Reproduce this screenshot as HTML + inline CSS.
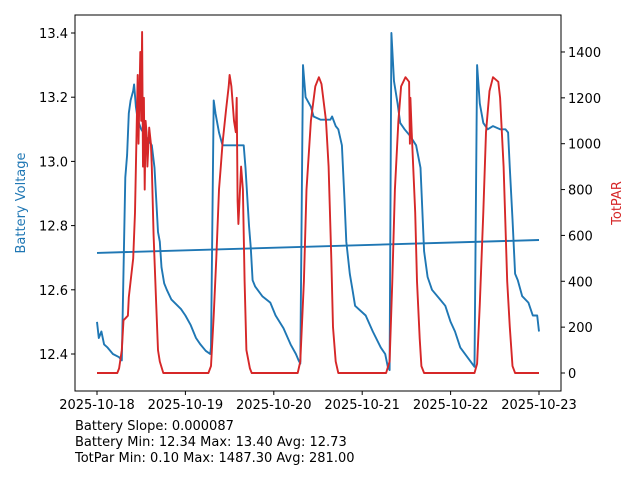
<!DOCTYPE html>
<html><head><meta charset="utf-8"><style>
body{margin:0;background:#fff;}
svg text{font-family:"DejaVu Sans","Liberation Sans",sans-serif;font-size:13px;fill:#000;}
</style></head><body>
<svg id="chart" width="640" height="480" xmlns="http://www.w3.org/2000/svg">
<g id="plot"></g>
<text x="75" y="430">Battery Slope: 0.000087</text>
<text x="75" y="446">Battery Min: 12.34 Max: 13.40 Avg: 12.73</text>
<text x="75" y="462">TotPar Min: 0.10 Max: 1487.30 Avg: 281.00</text>
<text transform="translate(25,203) rotate(-90)" text-anchor="middle" style="fill:#1f77b4">Battery Voltage</text>
<text transform="translate(621,203) rotate(-90)" text-anchor="middle" style="fill:#d62728">TotPAR</text>
</svg>
<script>
const battDays=[0,.02,.05,.08,.12,.18,.25,.28,.32,.34,.36,.38,.41,.42,.44,.46,.50,.55,.62,.65,.69,.71,.73,.76,.79,.84,.95,1.00,1.06,1.12,1.17,1.23,1.28,1.29,1.32,1.34,1.38,1.42,1.57,1.66,1.68,1.72,1.74,1.76,1.79,1.87,1.96,2.02,2.11,2.19,2.25,2.28,2.30,2.33,2.36,2.42,2.45,2.53,2.64,2.66,2.70,2.73,2.77,2.80,2.82,2.86,2.89,2.92,3.04,3.12,3.21,3.26,3.29,3.31,3.33,3.36,3.40,3.43,3.48,3.54,3.61,3.66,3.70,3.74,3.79,3.88,3.94,4.00,4.05,4.11,4.27,4.30,4.33,4.37,4.42,4.48,4.56,4.62,4.65,4.67,4.70,4.73,4.76,4.81,4.88,4.93,4.98,5.00];
const battVolts=[12.50,12.45,12.47,12.43,12.42,12.40,12.39,12.38,12.95,13.02,13.15,13.19,13.22,13.24,13.17,13.13,13.10,13.08,13.05,12.98,12.78,12.75,12.67,12.62,12.60,12.57,12.54,12.52,12.49,12.45,12.43,12.41,12.40,12.42,13.19,13.15,13.09,13.05,13.05,13.05,12.98,12.80,12.73,12.63,12.61,12.58,12.56,12.52,12.48,12.43,12.40,12.38,12.37,13.30,13.20,13.17,13.14,13.13,13.13,13.14,13.11,13.10,13.05,12.88,12.75,12.65,12.60,12.55,12.52,12.47,12.42,12.40,12.36,12.35,13.40,13.25,13.18,13.12,13.10,13.08,13.05,12.98,12.72,12.64,12.60,12.57,12.55,12.50,12.47,12.42,12.36,13.30,13.18,13.12,13.10,13.11,13.10,13.10,13.09,12.98,12.82,12.65,12.63,12.58,12.56,12.52,12.52,12.47];
const trendDays=[0,5];
const trendVolts=[12.715,12.755];
const parDays=[0,.23,.25,.28,.30,.35,.36,.38,.41,.43,.44,.45,.46,.47,.49,.50,.51,.52,.53,.54,.55,.56,.57,.59,.61,.62,.64,.67,.69,.71,.75,1.26,1.29,1.32,1.35,1.38,1.40,1.42,1.46,1.49,1.50,1.52,1.55,1.57,1.58,1.59,1.60,1.63,1.65,1.67,1.69,1.73,1.75,2.27,2.30,2.34,2.37,2.42,2.47,2.51,2.54,2.59,2.62,2.65,2.67,2.70,2.73,3.27,3.31,3.34,3.37,3.41,3.44,3.49,3.53,3.54,3.545,3.56,3.60,3.62,3.65,3.67,3.70,4.27,4.30,4.33,4.37,4.40,4.44,4.48,4.54,4.56,4.60,4.64,4.67,4.70,4.73,5.00];
const parVals=[0,0,20,100,230,250,330,400,500,700,900,1100,1300,1000,1400,1100,1487,900,1200,800,1100,1050,900,1070,1000,900,600,300,100,50,0,0,30,250,500,800,900,1000,1150,1250,1300,1250,1100,1050,1200,750,650,900,800,400,100,20,0,0,50,400,800,1100,1250,1290,1260,1100,900,500,200,50,0,0,50,400,800,1100,1250,1290,1270,1000,1200,1050,700,400,150,30,0,0,40,300,700,1050,1230,1290,1270,1200,900,400,200,30,0,0];
const xTickLabels=["2025-10-18","2025-10-19","2025-10-20","2025-10-21","2025-10-22","2025-10-23"];
const leftTicks=[12.4,12.6,12.8,13.0,13.2,13.4];
const rightTicks=[0,200,400,600,800,1000,1200,1400];

const L=75,R=561,T=15,B=391;
const xs=d=>97+d*88.4;
const yL=v=>354-(v-12.4)*321;
const yR=v=>373-v*0.2293;
const NS="http://www.w3.org/2000/svg";
const g=document.getElementById('plot');
function mk(tag,attrs){const e=document.createElementNS(NS,tag);for(const k in attrs)e.setAttribute(k,attrs[k]);g.appendChild(e);return e;}
function line(ds,vs,yf,color,name){
  const p=mk('polyline',{points:ds.map((d,i)=>xs(d).toFixed(1)+','+yf(vs[i]).toFixed(1)).join(' '),fill:'none',stroke:color,'stroke-width':1.9,'stroke-linejoin':'round'});
  
  
}
line(battDays,battVolts,yL,'#1f77b4','battery-voltage-line');
line(trendDays,trendVolts,yL,'#1f77b4','battery-trend-line');
line(parDays,parVals,yR,'#d62728','totpar-line');
const fr=mk('rect',{x:L,y:T,width:R-L,height:B-T,fill:'none',stroke:'#000','stroke-width':1});


xTickLabels.forEach((t,i)=>{
  const x=xs(i);
  mk('line',{x1:x,x2:x,y1:B,y2:B+4,stroke:'#000'});
  const tx=mk('text',{x:x,y:B+18,'text-anchor':'middle'});tx.textContent=t;
  
  
});
leftTicks.forEach(v=>{
  const y=yL(v);
  mk('line',{x1:L-4,x2:L,y1:y,y2:y,stroke:'#000'});
  const tx=mk('text',{x:L-7,y:y+5,'text-anchor':'end'});tx.textContent=v.toFixed(1);
  
  
});
rightTicks.forEach(v=>{
  const y=yR(v);
  mk('line',{x1:R,x2:R+4,y1:y,y2:y,stroke:'#000'});
  const tx=mk('text',{x:R+7,y:y+5,'text-anchor':'start'});tx.textContent=v;
  
  
});
</script>
</body></html>
